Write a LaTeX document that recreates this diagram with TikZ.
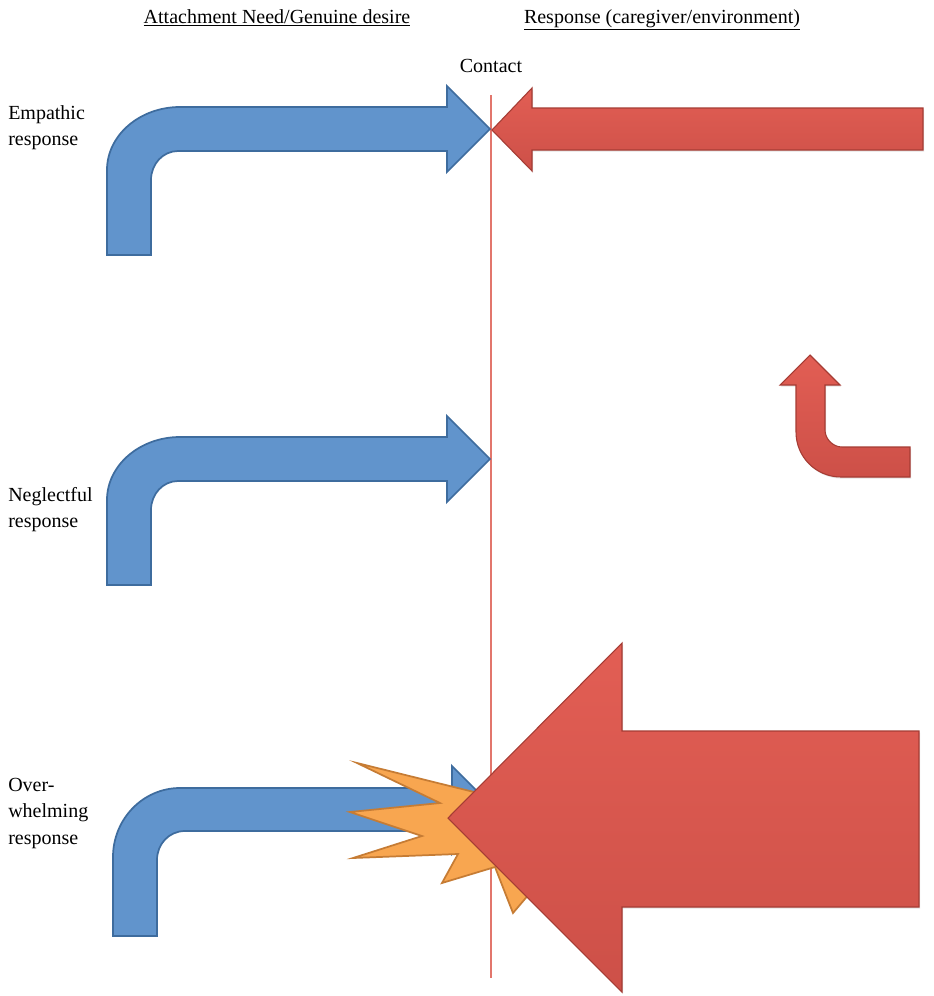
\documentclass[tikz,border=0pt]{standalone}
\usepackage{fontspec}
\setmainfont{Liberation Serif}
\usetikzlibrary{shadows}
\definecolor{bluefill}{RGB}{97,148,204}
\definecolor{blueline}{RGB}{62,108,158}
\definecolor{redtop}{RGB}{226,94,84}
\definecolor{redbot}{RGB}{205,80,72}
\definecolor{redline}{RGB}{165,60,52}
\definecolor{orangefill}{RGB}{248,166,80}
\definecolor{orangeline}{RGB}{198,124,52}
\definecolor{contactline}{RGB}{226,118,108}
\begin{document}
\begin{tikzpicture}[x=0.75pt,y=-0.75pt,
  bluearrow/.style={fill=bluefill,draw=blueline,line width=1.3pt,line join=miter},
  redarrow/.style={top color=redtop,bottom color=redbot,draw=redline,line width=0.8pt,line join=miter,
     drop shadow={opacity=0.22,shadow xshift=0.8pt,shadow yshift=-1.2pt}},
  burst/.style={fill=orangefill,draw=orangeline,line width=1.3pt,line join=miter},
  txt/.style={font=\fontsize{15}{19.8}\selectfont,inner sep=0pt,text=black},
  lbl/.style={txt,align=left,anchor=north west},
  hdr/.style={txt,anchor=base}]
\useasboundingbox (0,0) rectangle (933,996);
\fill[white] (0,0) rectangle (933,996);

% headers
\node[hdr] (h1) at (277,23) {\underline{Attachment Need/Genuine desire}};
\node[hdr] (h2) at (662,23) {\underline{Response (caregiver/environment)}};
\node[hdr] (contact) at (491,72) {Contact};

% side labels
\node[lbl] (l1) at (8,105) {Empathic\\response};
\node[lbl] (l2) at (8,487) {Neglectful\\response};
\node[lbl] (l3) at (8,778) {Over-\\whelming\\response};

% contact line
\coordinate (ct) at (491,95);
\coordinate (cb) at (491,978);
\draw[contactline,line width=0.9pt] (ct) -- (cb);

% row 1: empathic
\draw[bluearrow] (107,255) -- (107,170) .. controls (107,135) and (140,107) .. (180,107)
  -- (447,107) -- (447,86) -- (490,129) -- (447,172) -- (447,151) -- (178,151)
  .. controls (163,151) and (151,164) .. (151,180) -- (151,255) -- cycle;
\draw[redarrow] (923,108) -- (532,108) -- (532,88) -- (492,130) -- (532,171)
  -- (532,150) -- (923,150) -- cycle;

% row 2: neglectful
\draw[bluearrow] (107,585) -- (107,500) .. controls (107,465) and (140,437) .. (180,437)
  -- (447,437) -- (447,416) -- (490,459) -- (447,502) -- (447,481) -- (178,481)
  .. controls (163,481) and (151,494) .. (151,510) -- (151,585) -- cycle;
\draw[redarrow] (910,477) -- (841,477) .. controls (816,477) and (796,457) .. (796,432)
  -- (796,385) -- (780,385) -- (810,355) -- (840,385) -- (825,385) -- (825,430)
  .. controls (825,439) and (833,447) .. (842,447) -- (910,447) -- cycle;

% row 3: overwhelming
\draw[bluearrow] (113,936) -- (113,857) .. controls (113,819) and (143,788) .. (180,788)
  -- (452,788) -- (452,766) -- (496,810) -- (452,854) -- (452,831) -- (185,831)
  .. controls (169,831) and (157,844) .. (157,860) -- (157,936) -- cycle;
\draw[burst] (357,763) -- (440,803) -- (350,812) -- (422,836) -- (353,858) -- (458,854)
  -- (442,883) -- (495,867) -- (513,913) -- (530,893) -- (540,830) -- (520,800)
  -- (474,792) -- cycle;
\draw[redarrow] (919,731) -- (622,731) -- (622,643) -- (448,818) -- (622,992)
  -- (622,907) -- (919,907) -- cycle;
\end{tikzpicture}
\end{document}
